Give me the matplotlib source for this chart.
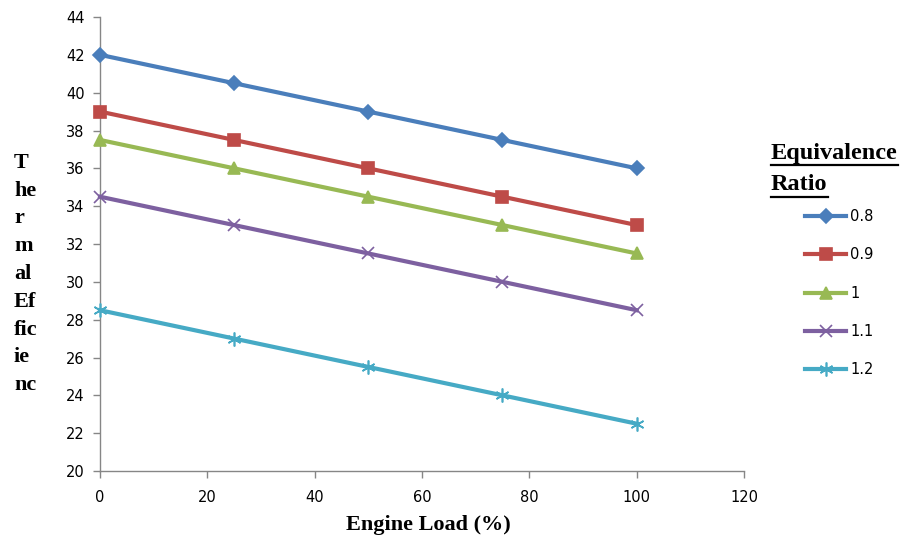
import matplotlib
matplotlib.use("Agg")
import matplotlib.pyplot as plt
from matplotlib.lines import Line2D

load = [0, 25, 50, 75, 100]
series_names = ["0.8", "0.9", "1", "1.1", "1.2"]
eff_08 = [42, 40.5, 39, 37.5, 36]
eff_09 = [39, 37.5, 36, 34.5, 33]
eff_10 = [37.5, 36, 34.5, 33, 31.5]
eff_11 = [34.5, 33, 31.5, 30, 28.5]
eff_12 = [28.5, 27, 25.5, 24, 22.5]
x_ticks = [0, 20, 40, 60, 80, 100, 120]
y_ticks = [20, 22, 24, 26, 28, 30, 32, 34, 36, 38, 40, 42, 44]

colors = ["#4A7EBB", "#BE4B48", "#98B954", "#7D60A0", "#46AAC5"]
markers = ["D", "s", "^", "x", (6, 2, 0)]
msizes = [7, 9, 8, 8, 10]

fig = plt.figure(figsize=(9.04, 5.51), dpi=100)
ax = fig.add_axes([100/904, 1-471/551, 644/904, 454/551])

handles = []
for vals, name, c, m, ms in zip([eff_08, eff_09, eff_10, eff_11, eff_12],
                                series_names, colors, markers, msizes):
    h, = ax.plot(load, vals, color=c, lw=3, marker=m, markersize=ms,
                 markeredgecolor=c, markerfacecolor=c, markeredgewidth=1.2,
                 label=name, clip_on=False, zorder=3)
    handles.append(h)

ax.set_xlim(0, 120)
ax.set_ylim(20, 44)
ax.set_xticks(x_ticks)
ax.set_yticks(y_ticks)
for s in ["top", "right"]:
    ax.spines[s].set_visible(False)
for s in ["left", "bottom"]:
    ax.spines[s].set_color("#868686")
    ax.spines[s].set_linewidth(1)
ax.tick_params(axis="both", direction="out", length=5, width=1, color="#868686",
               labelsize=10.5, labelcolor="black")
for lab in ax.get_xticklabels() + ax.get_yticklabels():
    lab.set_family("DejaVu Sans")
ax.tick_params(axis="x", pad=9)
ax.tick_params(axis="y", pad=6)

serif = "Liberation Serif"
fig.text(428/904, 1-525/551, "Engine Load (%)", ha="center", va="center",
         fontsize=16, fontweight="bold", family=serif)
fig.text(14/904, 1-274/551, "T\nhe\nr\nm\nal\nEf\nfic\nie\nnc", ha="left", va="center",
         multialignment="left", fontsize=16, fontweight="bold", family=serif,
         linespacing=1.52)

t1 = fig.text(771/904, 1-153/551, "Equivalence", ha="left", va="center",
              fontsize=17.5, fontweight="bold", family=serif)
t2 = fig.text(771/904, 1-185/551, "Ratio", ha="left", va="center",
              fontsize=17.5, fontweight="bold", family=serif)
fig.canvas.draw()
r = fig.canvas.get_renderer()
for t in (t1, t2):
    bb = t.get_window_extent(r).transformed(fig.transFigure.inverted())
    yline = bb.y0 - 1.5/551
    fig.add_artist(Line2D([bb.x0, bb.x1], [yline, yline], transform=fig.transFigure,
                          color="black", lw=1.6))

leg = fig.legend(handles=handles, loc="upper left", bbox_to_anchor=(792/904, 1-196/551),
                 frameon=False, handlelength=2.8, handletextpad=0.3, labelspacing=1.6,
                 prop={"family": "DejaVu Sans", "size": 10.5})

fig.savefig("out.png", dpi=100)
